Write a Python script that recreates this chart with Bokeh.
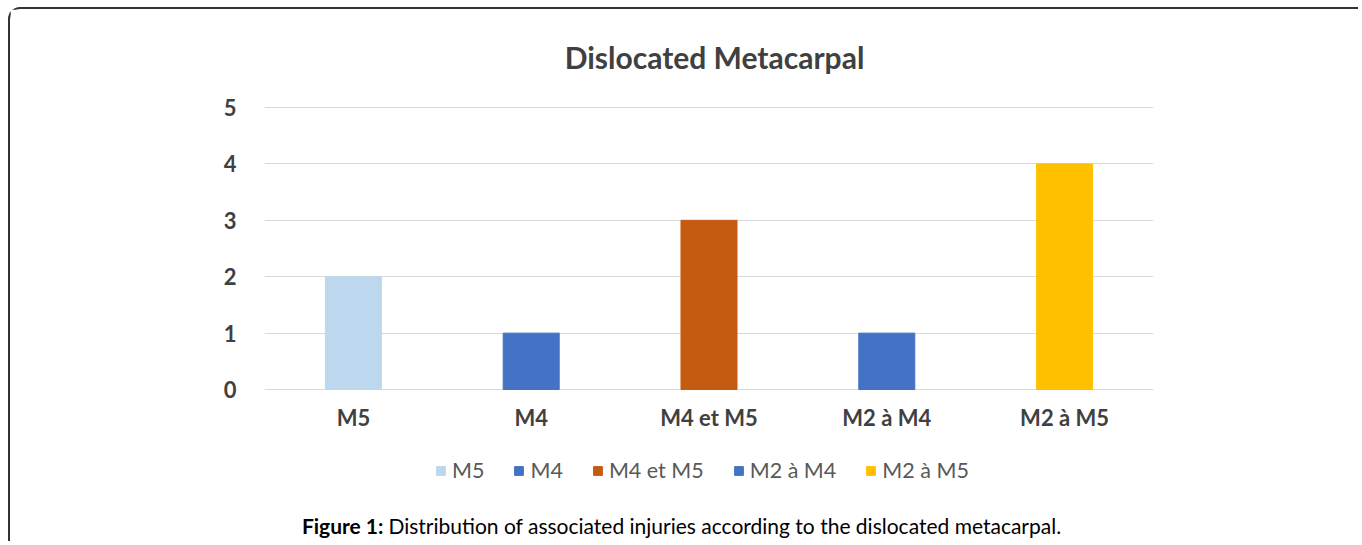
from bokeh.plotting import figure
from bokeh.models import ColumnDataSource, FixedTicker, Label, Range1d
from bokeh.embed import file_html
from bokeh.resources import INLINE

categories = ["M5", "M4", "M4 et M5", "M2 à M4", "M2 à M5"]
counts = [2, 1, 3, 1, 4]
bar_colors = ["#BDD7EE", "#4472C4", "#C55A11", "#4472C4", "#FFC000"]
y_ticks = [0, 1, 2, 3, 4, 5]
chart_title = "Dislocated Metacarpal"
caption_bold = "Figure 1:"
caption_text = "Distribution of associated injuries according to the dislocated metacarpal."

FONT = "Lato"

src = ColumnDataSource(dict(cat=categories, n=counts, color=bar_colors))

# the frame spans the full canvas height; the value axis runs 0..5 inside it
p = figure(x_range=categories, y_range=Range1d(-2.730, 6.738), width=1350, height=534,
           output_backend="svg", toolbar_location=None, tools="",
           min_border_left=254, min_border_right=207,
           min_border_top=0, min_border_bottom=0)
p.styles = {"margin-left": "8px", "margin-top": "7px",
            "border-left": "2px solid #333333", "border-top": "2px solid #333333",
            "border-top-left-radius": "12px"}
p.outline_line_color = None
p.background_fill_color = "white"
p.border_fill_color = "white"

p.vbar(x="cat", top="n", width=0.315, color="color", source=src, legend_field="cat")

p.xgrid.grid_line_color = None
p.ygrid.grid_line_color = "#D9D9D9"
p.ygrid.grid_line_width = 1.2
p.yaxis.ticker = FixedTicker(ticks=y_ticks)
p.xaxis.fixed_location = 0
for ax in (p.xaxis, p.yaxis):
    ax.axis_line_color = None
    ax.major_tick_line_color = None
    ax.minor_tick_line_color = None
    ax.major_label_text_font = FONT
    ax.major_label_text_font_style = "bold"
    ax.major_label_text_font_size = "22px"
    ax.major_label_text_color = "#404040"
p.yaxis.major_label_standoff = 22
p.xaxis.major_label_standoff = 8

leg = p.legend[0]
leg.orientation = "horizontal"
leg.location = (171, 60)
leg.border_line_color = None
leg.background_fill_alpha = 0
leg.label_text_font = FONT
leg.label_text_font_size = "21.5px"
leg.label_text_color = "#595959"
leg.glyph_width = 11
leg.glyph_height = 11
leg.label_standoff = 6
leg.spacing = 29
leg.padding = 5
leg.margin = 0

p.add_layout(Label(x=2.531, y=5.904, text=chart_title, text_align="center",
                   text_baseline="middle", text_font=FONT, text_font_style="bold",
                   text_font_size="30px", text_color="#404040"))
p.add_layout(Label(x=0.669, y=-2.411, text=caption_bold, text_align="right",
                   text_baseline="middle", text_font=FONT, text_font_style="bold",
                   text_font_size="21px", text_color="#000000"))
p.add_layout(Label(x=0.697, y=-2.411, text=caption_text, text_align="left",
                   text_baseline="middle", text_font=FONT,
                   text_font_size="21px", text_color="#000000"))

open("out.html", "w").write(file_html(p, INLINE))
